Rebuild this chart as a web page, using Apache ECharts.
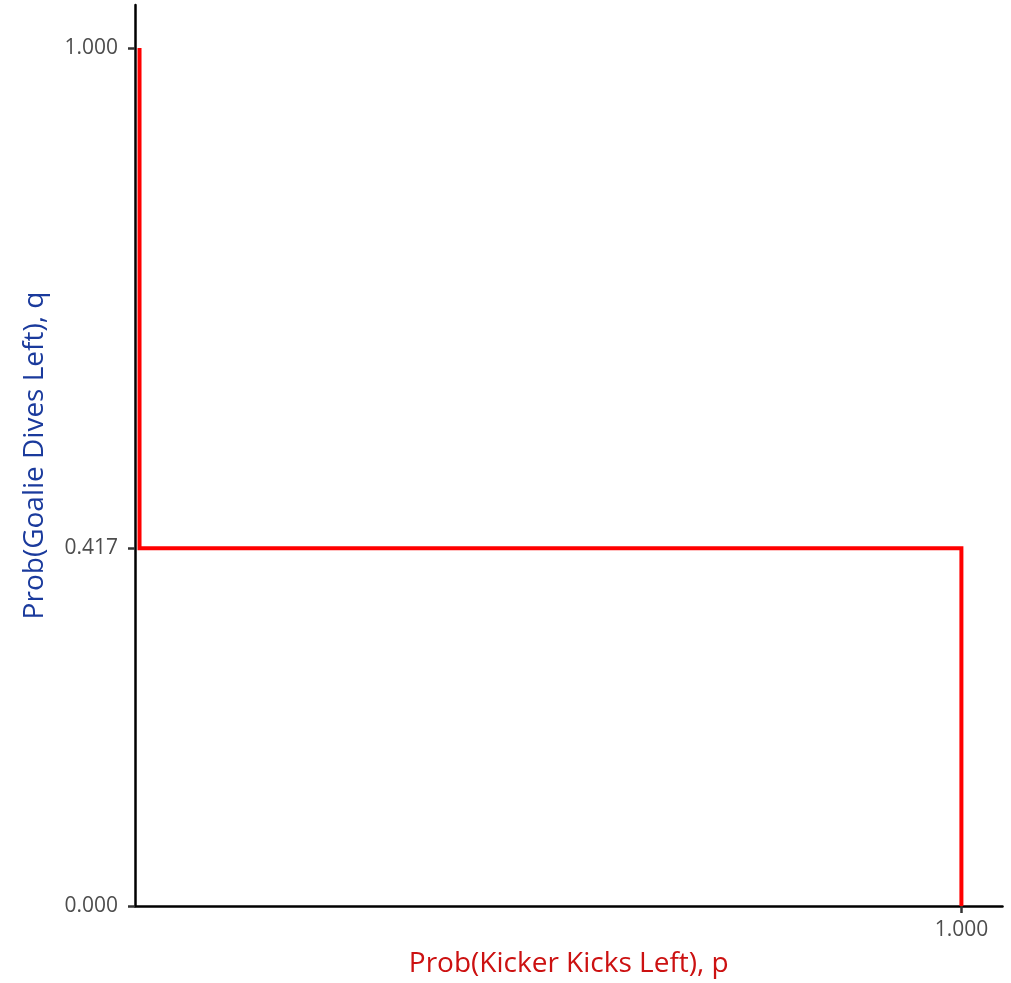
<!DOCTYPE html>
<html>
<head>
<meta charset="utf-8">
<script src="https://cdn.jsdelivr.net/npm/echarts@6/dist/echarts.min.js"></script>
<style>
html,body{margin:0;padding:0;background:#fff;}
#chart{width:1011px;height:983px;}
</style>
</head>
<body>
<div id="chart"></div>
<script>
// Data
const pValues = [0, 0, 1, 1];
const qValues = [1, 0.417, 0.417, 0];
const xTicks = [1];
const yTicks = [0, 0.417, 1];
const xTitle = 'Prob(Kicker Kicks Left), p';
const yTitle = 'Prob(Goalie Dives Left), q';

const fontFam = '"Open Sans", "Noto Sans", sans-serif';
const chart = echarts.init(document.getElementById('chart'));
const pts = pValues.map((p, i) => [p, qValues[i]]);

chart.setOption({
  animation: false,
  backgroundColor: '#ffffff',
  grid: { left: 135, right: 8.5, top: 5, bottom: 74, containLabel: false },
  xAxis: {
    type: 'value', min: -0.0055, max: 1.05,
    name: xTitle, nameLocation: 'middle', nameGap: 44,
    nameTextStyle: { color: '#cc1111', fontSize: 28, fontFamily: fontFam },
    axisLine: { show: true, onZero: false, lineStyle: { color: '#000', width: 2.5 } },
    axisTick: { show: true, customValues: xTicks, length: 7, lineStyle: { color: '#333', width: 2.5 } },
    axisLabel: { customValues: xTicks, color: '#4d4d4d', fontSize: 21, fontFamily: fontFam, margin: 14,
      formatter: v => v.toFixed(3) },
    splitLine: { show: false }
  },
  yAxis: {
    type: 'value', min: 0, max: 1.05,
    name: yTitle, nameLocation: 'middle', nameGap: 86,
    nameTextStyle: { color: '#1a3a9c', fontSize: 28, fontFamily: fontFam },
    axisLine: { show: true, onZero: false, lineStyle: { color: '#000', width: 2.5 } },
    axisTick: { show: true, customValues: yTicks, length: 7, lineStyle: { color: '#333', width: 2.5 } },
    axisLabel: { customValues: yTicks, color: '#4d4d4d', fontSize: 21, fontFamily: fontFam, margin: 17,
      formatter: v => v.toFixed(3) },
    splitLine: { show: false }
  },
  series: [{
    type: 'line', data: pts, showSymbol: false, symbol: 'none',
    lineStyle: { color: '#ff0000', width: 4, join: 'miter', cap: 'butt' },
    z: 1
  }]
});
</script>
</body>
</html>
